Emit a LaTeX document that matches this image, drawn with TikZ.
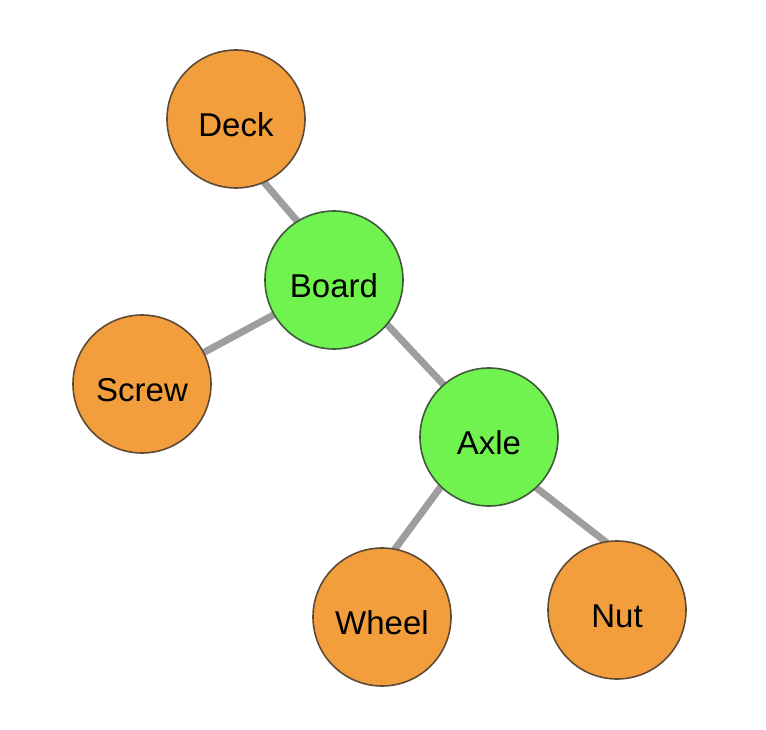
\documentclass[tikz,border=0pt]{standalone}
\usepackage{fontspec}
\setmainfont{Liberation Sans}
\usetikzlibrary{backgrounds}
\definecolor{orangefill}{HTML}{F29E3D}
\definecolor{greenfill}{HTML}{70F24F}
\definecolor{orangeline}{HTML}{5E4A36}
\definecolor{greenline}{HTML}{3E5A3A}
\definecolor{edgegray}{HTML}{9E9E9E}
\begin{document}
\begin{tikzpicture}[x=1pt,y=-1pt,
  part/.style={circle,draw=orangeline,line width=1.6pt,fill=orangefill,minimum size=138pt,inner sep=0pt,
    font=\fontsize{33}{36}\selectfont,text height=35pt,text depth=0pt},
  asm/.style={part,draw=greenline,fill=greenfill},
  link/.style={draw=edgegray,line width=7pt,shorten <=-3pt,shorten >=-3pt}]
\useasboundingbox (0,0) rectangle (766,730);
\node[part] (deck) at (236,119) {Deck};
\node[asm] (board) at (334,280) {Board};
\node[part] (screw) at (142,384) {Screw};
\node[asm] (axle) at (489,437) {Axle};
\node[part] (wheel) at (382,617) {Wheel};
\node[part] (nut) at (617,610) {Nut};
\begin{scope}[on background layer]
\draw[link] (deck.-66) -- (board.122);
\draw[link] (screw.27) -- (board.210);
\draw[link] (board.-40) -- (axle.131);
\draw[link] (axle.226) -- (wheel.79);
\draw[link] (axle.-47) -- (nut.100);
\end{scope}
\end{tikzpicture}
\end{document}
